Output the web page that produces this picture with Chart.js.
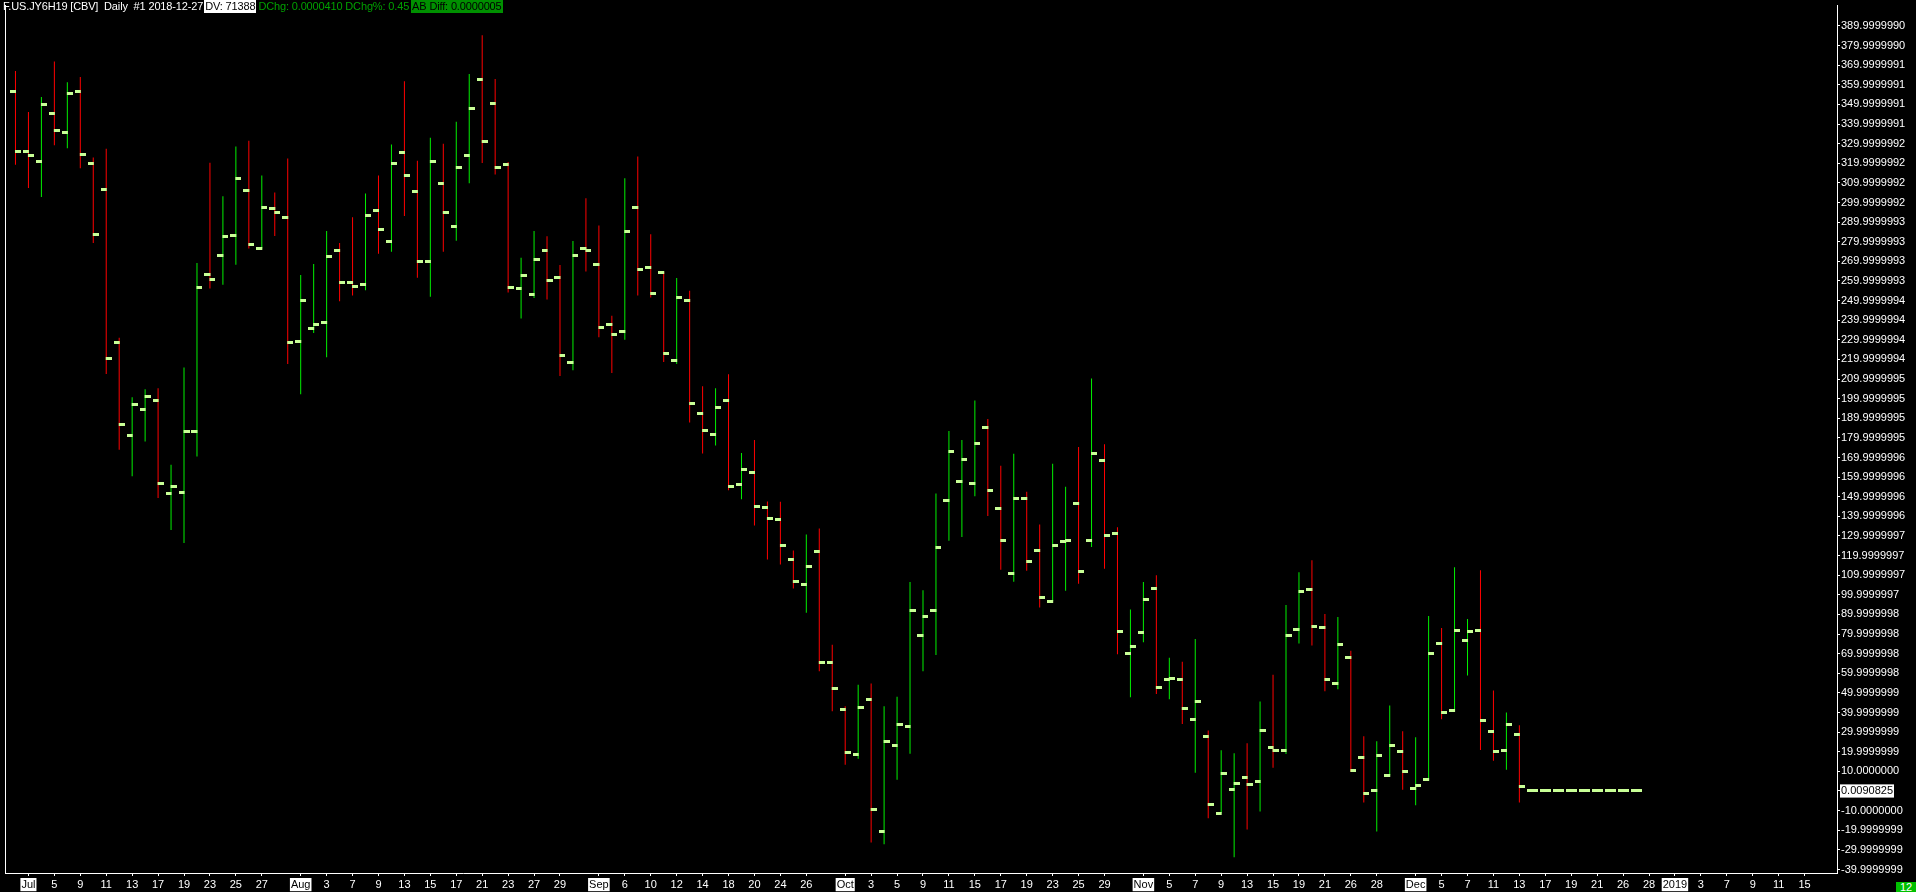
<!DOCTYPE html>
<html>
<head>
<meta charset="utf-8">
<title>F.US.JY6H19 Daily</title>
<script src="https://cdn.jsdelivr.net/npm/chart.js@4.4.1/dist/chart.umd.min.js"></script>
<style>
  html, body { margin: 0; padding: 0; background: #000; overflow: hidden; }
  #wrap { position: relative; width: 1916px; height: 892px; }
  #bars { position: absolute; left: 0; top: 0; }
  #hdr {
    position: absolute; left: 3px; top: 0; height: 13px; line-height: 13px;
    font: 11px 'Liberation Sans', Arial, sans-serif; white-space: pre; color: #fff;
    letter-spacing: -0.15px;
  }
  #hdr span { display: inline-block; height: 13px; vertical-align: top; }
  #hdr .wb { background: #fff; color: #000; padding: 0 1px; margin-left: 1px; }
  #hdr .gt { color: #00a000; padding: 0 2px; }
  #hdr .gb { background: #009000; color: #000; padding: 0 1px; }
  #count {
    position: absolute; left: 1896px; top: 882px; width: 20px; height: 10px;
    background: #00c000; color: #fff; text-align: center;
    font: 11px 'Liberation Sans', Arial, sans-serif; line-height: 10px; overflow: hidden;
  }
</style>
</head>
<body>
<div id="wrap">
  <canvas id="bars" width="1916" height="892"></canvas>
  <div id="hdr"><span>F.US.JY6H19 [CBV]  Daily  #1 2018-12-27</span><span class="wb">DV: 71388</span><span class="gt">DChg: 0.0000410 DChg%: 0.45</span><span class="gb">AB Diff: 0.0000005</span></div>
  <div id="count">12</div>
</div>
<script>
/* eslint-env browser */

// ------------------------
// Data (one entry per session, Jun 29 2018 .. Dec 27 2018)
// ------------------------
const opens = [
  356.6, 326.2, 321.1, 345.4, 335.8, 356.8, 320.1, 306.5, 228.5, 181.0,
  194.4, 199.0, 151.5, 152.4, 183.3, 263.4, 272.9, 283.3, 306.0, 276.6,
  296.9, 292.2, 229.0, 235.6, 238.6, 275.6, 259.4, 258.3, 295.8, 280.1,
  325.7, 305.4, 269.7, 309.6, 287.8, 323.8, 362.7, 350.6, 319.6, 256.4,
  253.2, 275.6, 262.0, 218.3, 276.6, 268.4, 237.6, 234.1, 297.4, 267.0,
  264.4, 219.4, 249.8, 192.3, 181.7, 199.0, 156.0, 162.5, 144.3, 138.4,
  118.1, 105.4, 122.1, 65.4, 41.6, 18.8, 46.5, -20.8, 23.2, 32.7,
  79.5, 92.1, 147.9, 157.9, 157.0, 185.4, 144.2, 110.7, 148.9, 122.6,
  96.8, 127.0, 146.3, 127.5, 168.6, 131.2, 70.0, 80.9, 103.2, 56.6,
  56.6, 36.3, 27.7, -11.3, 0.9, 6.9, 4.9, 22.1, 20.6, 82.4,
  102.7, 83.5, 54.6, 68.3, 17.1, 0.3, 8.0, 20.1, 1.4, 5.9,
  75.4, 40.9, 76.9, 81.9, 30.3, 20.6, 28.7,
  0.0090825, 0.0090825, 0.0090825, 0.0090825, 0.0090825, 0.0090825, 0.0090825, 0.0090825, 0.0090825,
]
const highs = [
  367.0, 346.1, 353.8, 371.9, 361.3, 363.9, 322.9, 327.4, 231.1, 200.7,
  204.8, 205.3, 166.3, 215.9, 269.1, 320.3, 303.2, 328.5, 331.5, 313.8,
  305.1, 322.4, 263.0, 268.6, 285.4, 279.3, 292.5, 304.6, 313.8, 329.5,
  361.8, 321.3, 333.0, 329.9, 341.1, 365.5, 385.2, 362.9, 320.6, 271.8,
  285.4, 282.8, 268.1, 280.3, 302.1, 288.3, 242.3, 312.3, 323.4, 283.8,
  264.6, 261.5, 255.0, 206.3, 205.3, 212.4, 172.3, 178.9, 147.6, 147.5,
  122.6, 130.7, 133.8, 74.6, 43.2, 54.1, 54.8, 43.2, 48.1, 106.5,
  102.3, 151.6, 183.5, 178.9, 199.1, 189.6, 165.8, 171.9, 152.6, 135.8,
  166.8, 155.1, 175.4, 210.3, 176.8, 134.4, 92.5, 106.5, 110.0, 67.9,
  65.9, 77.5, 30.9, 20.8, 19.3, 24.3, 45.6, 59.3, 94.8, 111.5,
  117.6, 90.2, 88.7, 71.5, 27.9, 25.3, 43.6, 30.4, 27.4, 89.2,
  83.1, 114.0, 87.7, 112.5, 51.2, 40.0, 33.5,
  0.0090825, 0.0090825, 0.0090825, 0.0090825, 0.0090825, 0.0090825, 0.0090825, 0.0090825, 0.0090825,
]
const lows = [
  319.2, 307.4, 302.8, 329.2, 327.6, 317.5, 279.4, 212.6, 174.0, 160.4,
  178.1, 149.3, 133.0, 126.4, 170.5, 256.2, 258.1, 268.3, 276.5, 276.6,
  282.9, 217.6, 202.3, 233.4, 221.1, 249.6, 252.6, 255.2, 273.8, 274.9,
  293.1, 261.6, 252.0, 274.9, 280.5, 309.8, 320.1, 314.2, 254.1, 240.8,
  251.3, 250.6, 211.6, 214.5, 264.8, 231.3, 213.1, 230.0, 252.6, 251.5,
  218.7, 217.6, 187.8, 172.1, 176.1, 153.3, 148.7, 135.4, 118.0, 115.4,
  103.2, 90.9, 61.1, 40.6, 13.4, 16.5, -26.2, -27.1, 5.7, 19.0,
  61.1, 69.3, 127.5, 129.5, 150.3, 140.2, 112.8, 106.7, 112.3, 93.5,
  96.8, 102.1, 105.6, 124.4, 113.3, 69.7, 47.8, 75.8, 49.4, 46.8,
  34.1, 9.3, -13.9, -11.3, -33.8, -19.6, -10.5, 11.8, 18.9, 75.2,
  74.2, 50.8, 51.9, 9.8, -5.9, -20.6, 8.0, 0.7, -7.3, 5.2,
  36.6, 40.4, 58.9, 20.9, 15.4, 10.8, -5.9,
  0.0090825, 0.0090825, 0.0090825, 0.0090825, 0.0090825, 0.0090825, 0.0090825, 0.0090825, 0.0090825,
]
const closes = [
  326.2, 323.8, 350.1, 336.8, 355.7, 324.6, 283.8, 220.4, 186.6, 197.2,
  201.3, 156.6, 155.0, 183.3, 256.9, 260.9, 282.8, 312.1, 278.6, 297.4,
  294.8, 228.5, 249.8, 237.6, 272.5, 259.4, 257.3, 293.4, 286.3, 320.1,
  313.6, 269.7, 321.1, 294.8, 317.6, 348.0, 331.3, 317.6, 256.9, 262.8,
  271.1, 260.4, 221.8, 272.9, 275.6, 236.5, 232.5, 285.2, 265.8, 253.8,
  222.9, 251.7, 197.4, 183.8, 195.5, 155.0, 164.1, 144.9, 138.8, 125.1,
  107.0, 114.4, 65.4, 52.5, 19.7, 42.5, -9.6, 25.3, 33.9, 92.1,
  89.0, 123.9, 173.1, 169.1, 177.2, 153.3, 127.5, 149.3, 117.0, 98.6,
  125.1, 127.5, 111.9, 172.1, 130.0, 81.4, 73.9, 97.7, 53.0, 57.1,
  41.9, 45.5, -6.8, 9.0, 3.9, 3.4, 30.8, 20.6, 79.4, 101.7,
  84.0, 56.6, 74.9, 10.5, -1.2, 18.1, 23.2, 10.0, 2.9, 70.3,
  39.9, 81.9, 81.4, 35.8, 20.1, 33.8, 2.4,
  0.0090825, 0.0090825, 0.0090825, 0.0090825, 0.0090825, 0.0090825, 0.0090825, 0.0090825, 0.0090825,
]

// session index -> date label on the time axis
const xTickIndex = [
  1, 3, 5, 7, 9, 11, 13, 15, 17, 19,
  22, 24, 26, 28, 30, 32, 34, 36, 38, 40, 42,
  45, 47, 49, 51, 53, 55, 57, 59, 61,
  64, 66, 68, 70, 72, 74, 76, 78, 80, 82, 84,
  87, 89, 91, 93, 95, 97, 99, 101, 103, 105,
  108, 110, 112, 114, 116, 118, 120, 122, 124, 126,
  128, 130, 132, 134, 136, 138,
]
const xTickLabel = [
  'Jul', '5', '9', '11', '13', '17', '19', '23', '25', '27',
  'Aug', '3', '7', '9', '13', '15', '17', '21', '23', '27', '29',
  'Sep', '6', '10', '12', '14', '18', '20', '24', '26',
  'Oct', '3', '5', '9', '11', '15', '17', '19', '23', '25', '29',
  'Nov', '5', '7', '9', '13', '15', '19', '21', '26', '28',
  'Dec', '5', '7', '11', '13', '17', '19', '21', '26', '28',
  '2019', '3', '7', '9', '11', '15',
]
const monthLabels = ['Jul', 'Aug', 'Sep', 'Oct', 'Nov', 'Dec', '2019']

const yTickValues = [
  390, 380, 370, 360, 350, 340, 330, 320, 310, 300, 290, 280, 270, 260, 250,
  240, 230, 220, 210, 200, 190, 180, 170, 160, 150, 140, 130, 120, 110, 100,
  90, 80, 70, 60, 50, 40, 30, 20, 10, 0.0090825, -10, -20, -30, -40,
]
const yTickLabel = [
  '389.9999990', '379.9999990', '369.9999991', '359.9999991', '349.9999991',
  '339.9999991', '329.9999992', '319.9999992', '309.9999992', '299.9999992',
  '289.9999993', '279.9999993', '269.9999993', '259.9999993', '249.9999994',
  '239.9999994', '229.9999994', '219.9999994', '209.9999995', '199.9999995',
  '189.9999995', '179.9999995', '169.9999996', '159.9999996', '149.9999996',
  '139.9999996', '129.9999997', '119.9999997', '109.9999997', '99.9999997',
  '89.9999998', '79.9999998', '69.9999998', '59.9999998', '49.9999999',
  '39.9999999', '29.9999999', '19.9999999', '10.0000000', '0.0090825',
  '-10.0000000', '-19.9999999', '-29.9999999', '-39.9999999',
]
const lastLabel = '0.0090825'

// ------------------------
// Look
// ------------------------
const UP = '#00f000'
const DOWN = '#ff0000'
const TICK = '#c8ff96'

Chart.defaults.font.family = "'Liberation Sans', Arial, sans-serif"
Chart.defaults.font.size = 11

// open tick sits left of the bar, close tick right of it
const tickMark = (side) => {
  const c = document.createElement('canvas')
  c.width = 11
  c.height = 3
  const g = c.getContext('2d')
  g.fillStyle = TICK
  g.fillRect(side === 'open' ? 0 : 5, 0, 6, 3)
  return c
}

const frameLeft = {
  id: 'frameLeft',
  afterDraw(chart) {
    const { ctx, chartArea } = chart
    ctx.save()
    ctx.fillStyle = '#fff'
    ctx.fillRect(chartArea.left, chartArea.top, 1, chartArea.bottom - chartArea.top + 1)
    ctx.restore()
  },
}

const isMonth = (i) => monthLabels.includes(xTickLabel[i])
const isLast = (i) => yTickLabel[i] === lastLabel

new Chart(document.getElementById('bars'), {
  type: 'bar',
  plugins: [frameLeft],

  data: {
    datasets: [
      {
        data: highs.map((h, i) => ({ x: i, y: [lows[i], h] })),
        backgroundColor: closes.map((c, i) => (c >= opens[i] ? UP : DOWN)),
        barThickness: 1,
        borderWidth: 0,
        inflateAmount: 0,
        grouped: false,
        order: 2,
      },
      {
        type: 'line',
        data: opens.map((v, i) => ({ x: i, y: v })),
        showLine: false,
        pointStyle: tickMark('open'),
        pointRadius: 3,
        order: 0,
      },
      {
        type: 'line',
        data: closes.map((v, i) => ({ x: i, y: v })),
        showLine: false,
        pointStyle: tickMark('close'),
        pointRadius: 3,
        order: 0,
      },
    ],
  },

  options: {
    responsive: false,
    devicePixelRatio: 1,
    animation: false,
    events: [],
    layout: { padding: 0 },

    plugins: {
      legend: { display: false },
      tooltip: { enabled: false },
    },

    scales: {
      x: {
        type: 'linear',
        bounds: 'data',
        offset: false,
        min: -0.8077,
        max: 140.5,
        grid: { offset: false, drawOnChartArea: false, color: '#fff', tickLength: 3 },
        border: { color: '#fff', width: 1 },
        afterBuildTicks: (scale) => {
          scale.ticks = xTickIndex.map((value) => ({ value }))
        },
        afterFit: (scale) => {
          scale.height = 19
          scale.paddingLeft = 0
          scale.paddingRight = 0
        },
        ticks: {
          autoSkip: false,
          maxRotation: 0,
          padding: 2,
          callback: (_v, i) => xTickLabel[i],
          color: (ctx) => (isMonth(ctx.index) ? '#000' : '#fff'),
          showLabelBackdrop: (ctx) => isMonth(ctx.index),
          backdropColor: '#fff',
          backdropPadding: { left: 1, right: 1, top: 0, bottom: 0 },
        },
      },
      y: {
        type: 'linear',
        position: 'right',
        bounds: 'data',
        min: -41.8,
        max: 400.66,
        grid: { drawOnChartArea: false, color: '#fff', tickLength: 3 },
        border: { color: '#fff', width: 1 },
        afterBuildTicks: (scale) => {
          scale.ticks = yTickValues.map((value) => ({ value }))
        },
        afterFit: (scale) => {
          scale.width = 79
          scale.paddingTop = 0
          scale.paddingBottom = 0
        },
        ticks: {
          autoSkip: false,
          padding: 1,
          crossAlign: 'near',
          callback: (_v, i) => yTickLabel[i],
          color: (ctx) => (isLast(ctx.index) ? '#000' : '#fff'),
          showLabelBackdrop: (ctx) => isLast(ctx.index),
          backdropColor: '#fff',
          backdropPadding: { left: 1, right: 1, top: 0, bottom: 0 },
        },
      },
    },
  },
})
</script>
</body>
</html>
